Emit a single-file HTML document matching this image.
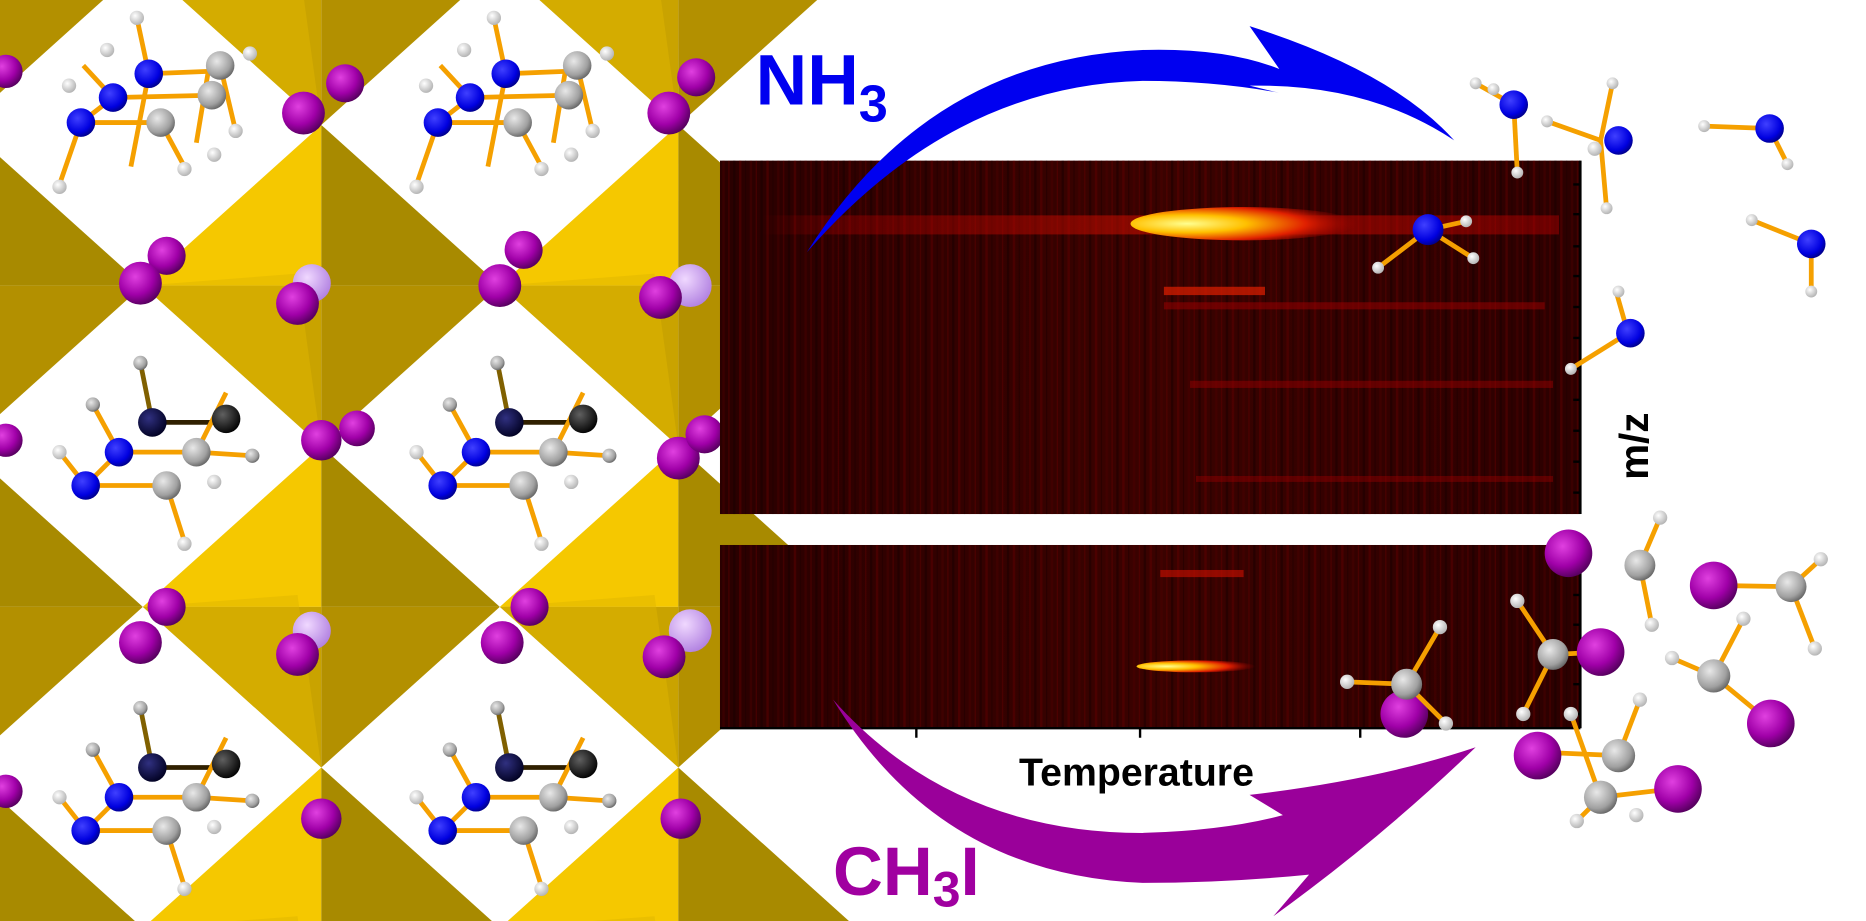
<!DOCTYPE html>
<html><head><meta charset="utf-8"><style>
html,body{margin:0;padding:0;background:#fff;overflow:hidden;width:1866px;height:921px}
svg{display:block}
</style></head><body>
<svg width="1866" height="921" viewBox="0 0 1568 774" preserveAspectRatio="none" xmlns="http://www.w3.org/2000/svg">
<defs>
<radialGradient id="gP" cx="0.38" cy="0.35" r="0.7"><stop offset="0" stop-color="#e040e0"/><stop offset="0.6" stop-color="#a000a8"/><stop offset="1" stop-color="#500058"/></radialGradient>
<radialGradient id="gL" cx="0.38" cy="0.35" r="0.7"><stop offset="0" stop-color="#f0d8ff"/><stop offset="1" stop-color="#b080e0"/></radialGradient>
<radialGradient id="gB" cx="0.38" cy="0.35" r="0.7"><stop offset="0" stop-color="#4040ff"/><stop offset="0.7" stop-color="#0000e0"/><stop offset="1" stop-color="#000080"/></radialGradient>
<radialGradient id="gD" cx="0.38" cy="0.35" r="0.7"><stop offset="0" stop-color="#303080"/><stop offset="1" stop-color="#000020"/></radialGradient>
<radialGradient id="gG" cx="0.38" cy="0.35" r="0.7"><stop offset="0" stop-color="#e8e8e8"/><stop offset="0.7" stop-color="#a0a0a0"/><stop offset="1" stop-color="#606060"/></radialGradient>
<radialGradient id="gK" cx="0.38" cy="0.35" r="0.7"><stop offset="0" stop-color="#606060"/><stop offset="1" stop-color="#000"/></radialGradient>
<radialGradient id="gW" cx="0.38" cy="0.35" r="0.7"><stop offset="0" stop-color="#fff"/><stop offset="1" stop-color="#b0b0b0"/></radialGradient>
<linearGradient id="hm" x1="0" x2="1"><stop offset="0" stop-color="#2a0000"/><stop offset="0.5" stop-color="#3a0200"/><stop offset="1" stop-color="#2c0000"/></linearGradient>
<pattern id="noise" width="23" height="10" patternUnits="userSpaceOnUse">
 <rect x="0" width="2" height="10" fill="#600000" opacity="0.5"/><rect x="5" width="1" height="10" fill="#200000" opacity="0.6"/>
 <rect x="9" width="2" height="10" fill="#500000" opacity="0.4"/><rect x="14" width="1" height="10" fill="#700000" opacity="0.4"/>
 <rect x="18" width="2" height="10" fill="#180000" opacity="0.5"/>
</pattern>
<linearGradient id="s1" x1="0" x2="1"><stop offset="0" stop-color="#c00000" stop-opacity="0"/><stop offset="0.1" stop-color="#b00000" stop-opacity="0.5"/><stop offset="0.5" stop-color="#d01000" stop-opacity="0.8"/><stop offset="1" stop-color="#c00000" stop-opacity="0.6"/></linearGradient>
<radialGradient id="hot" cx="0.25" cy="0.5" r="0.75"><stop offset="0" stop-color="#ffff90"/><stop offset="0.35" stop-color="#ffc000"/><stop offset="0.7" stop-color="#e02000"/><stop offset="1" stop-color="#a00000" stop-opacity="0"/></radialGradient>
<g id="oct">
 <polygon points="-150,0 0,-135 0,0" fill="#f5c800"/>
 <polygon points="0,-135 150,0 0,0" fill="#a88a00"/>
 <polygon points="-150,0 0,0 0,135" fill="#c9a300"/>
 <polygon points="0,0 150,0 0,135" fill="#b39000"/>
 <polygon points="-150,0 -20,-10 0,135" fill="#e0b500" opacity="0.5"/>
</g>
</defs>
<rect width="1568" height="774" fill="#fff"/>

<g>
<use href="#oct" x="-30" y="-30"/><use href="#oct" x="270" y="-30"/><use href="#oct" x="570" y="-30"/>
<use href="#oct" x="-30" y="240"/><use href="#oct" x="270" y="240"/><use href="#oct" x="570" y="240"/>
<use href="#oct" x="-30" y="510"/><use href="#oct" x="270" y="510"/><use href="#oct" x="570" y="510"/>
<use href="#oct" x="-30" y="780"/><use href="#oct" x="270" y="780"/><use href="#oct" x="570" y="780"/>
</g>
<g>
<circle cx="262" cy="238" r="16" fill="url(#gL)"/><circle cx="580" cy="240" r="18" fill="url(#gL)"/>
<circle cx="262" cy="530" r="16" fill="url(#gL)"/><circle cx="580" cy="530" r="18" fill="url(#gL)"/>
<circle cx="140" cy="215" r="16" fill="url(#gP)"/><circle cx="118" cy="238" r="18" fill="url(#gP)"/>
<circle cx="255" cy="95" r="18" fill="url(#gP)"/><circle cx="290" cy="70" r="16" fill="url(#gP)"/>
<circle cx="250" cy="255" r="18" fill="url(#gP)"/>
<circle cx="440" cy="210" r="16" fill="url(#gP)"/><circle cx="420" cy="240" r="18" fill="url(#gP)"/>
<circle cx="555" cy="250" r="18" fill="url(#gP)"/><circle cx="562" cy="95" r="18" fill="url(#gP)"/><circle cx="585" cy="65" r="16" fill="url(#gP)"/>
<circle cx="740" cy="212" r="18" fill="url(#gP)"/>
<circle cx="270" cy="370" r="17" fill="url(#gP)"/><circle cx="300" cy="360" r="15" fill="url(#gP)"/>
<circle cx="570" cy="385" r="18" fill="url(#gP)"/><circle cx="592" cy="365" r="16" fill="url(#gP)"/>
<circle cx="140" cy="510" r="16" fill="url(#gP)"/><circle cx="118" cy="540" r="18" fill="url(#gP)"/>
<circle cx="250" cy="550" r="18" fill="url(#gP)"/>
<circle cx="445" cy="510" r="16" fill="url(#gP)"/><circle cx="422" cy="540" r="18" fill="url(#gP)"/>
<circle cx="558" cy="552" r="18" fill="url(#gP)"/>
<circle cx="740" cy="508" r="18" fill="url(#gP)"/><circle cx="722" cy="538" r="18" fill="url(#gP)"/>
<circle cx="270" cy="688" r="17" fill="url(#gP)"/><circle cx="572" cy="688" r="17" fill="url(#gP)"/>
<circle cx="5" cy="60" r="14" fill="url(#gP)"/><circle cx="5" cy="370" r="14" fill="url(#gP)"/><circle cx="5" cy="665" r="14" fill="url(#gP)"/>
</g>
<g id="mol1" stroke="#f5a000" stroke-width="4">
 <line x1="68" y1="103" x2="95" y2="82"/><line x1="95" y1="82" x2="178" y2="80"/><line x1="68" y1="103" x2="135" y2="103"/>
 <line x1="125" y1="62" x2="175" y2="60"/><line x1="125" y1="62" x2="110" y2="140"/><line x1="175" y1="60" x2="165" y2="120"/>
 <line x1="68" y1="103" x2="50" y2="155"/><line x1="125" y1="62" x2="115" y2="15"/><line x1="185" y1="55" x2="198" y2="110"/>
 <line x1="95" y1="82" x2="70" y2="55"/><line x1="135" y1="103" x2="155" y2="140"/>
 <circle cx="50" cy="157" r="6" fill="url(#gW)" stroke="none"/><circle cx="115" cy="15" r="6" fill="url(#gW)" stroke="none"/>
 <circle cx="90" cy="42" r="6" fill="url(#gW)" stroke="none"/><circle cx="198" cy="110" r="6" fill="url(#gW)" stroke="none"/>
 <circle cx="155" cy="142" r="6" fill="url(#gW)" stroke="none"/><circle cx="180" cy="130" r="6" fill="url(#gW)" stroke="none"/>
 <circle cx="58" cy="72" r="6" fill="url(#gW)" stroke="none"/><circle cx="210" cy="45" r="6" fill="url(#gW)" stroke="none"/>
 <circle cx="125" cy="62" r="12" fill="url(#gB)" stroke="none"/><circle cx="95" cy="82" r="12" fill="url(#gB)" stroke="none"/>
 <circle cx="68" cy="103" r="12" fill="url(#gB)" stroke="none"/><circle cx="178" cy="80" r="12" fill="url(#gG)" stroke="none"/>
 <circle cx="185" cy="55" r="12" fill="url(#gG)" stroke="none"/><circle cx="135" cy="103" r="12" fill="url(#gG)" stroke="none"/>
</g>
<use href="#mol1" x="300" y="0"/>
<g id="mol2" stroke="#f5a000" stroke-width="4">
 <line x1="128" y1="355" x2="190" y2="355" stroke="#302000"/><line x1="128" y1="355" x2="118" y2="305" stroke="#806000"/>
 <line x1="100" y1="380" x2="165" y2="380"/><line x1="72" y1="408" x2="140" y2="408"/><line x1="100" y1="380" x2="72" y2="408"/>
 <line x1="165" y1="380" x2="190" y2="330"/><line x1="140" y1="408" x2="155" y2="455"/><line x1="72" y1="408" x2="50" y2="380"/>
 <line x1="100" y1="380" x2="78" y2="340"/><line x1="165" y1="380" x2="212" y2="383"/>
 <circle cx="155" cy="457" r="6" fill="url(#gW)" stroke="none"/><circle cx="50" cy="380" r="6" fill="url(#gW)" stroke="none"/>
 <circle cx="78" cy="340" r="6" fill="url(#gG)" stroke="none"/><circle cx="118" cy="305" r="6" fill="url(#gG)" stroke="none"/>
 <circle cx="212" cy="383" r="6" fill="url(#gG)" stroke="none"/><circle cx="180" cy="405" r="6" fill="url(#gW)" stroke="none"/>
 <circle cx="128" cy="355" r="12" fill="url(#gD)" stroke="none"/><circle cx="190" cy="352" r="12" fill="url(#gK)" stroke="none"/>
 <circle cx="100" cy="380" r="12" fill="url(#gB)" stroke="none"/><circle cx="72" cy="408" r="12" fill="url(#gB)" stroke="none"/>
 <circle cx="165" cy="380" r="12" fill="url(#gG)" stroke="none"/><circle cx="140" cy="408" r="12" fill="url(#gG)" stroke="none"/>
</g>
<use href="#mol2" x="300" y="0"/>
<use href="#mol2" x="0" y="290"/>
<use href="#mol2" x="300" y="290"/>

<g>
<rect x="605" y="135" width="723" height="297" fill="url(#hm)"/>
<rect x="605" y="135" width="723" height="297" fill="url(#noise)"/>
<rect x="605" y="458" width="723" height="154" fill="url(#hm)"/>
<rect x="605" y="458" width="723" height="154" fill="url(#noise)"/>
<rect x="640" y="181" width="670" height="16" fill="url(#s1)" opacity="0.7"/>
<ellipse cx="1045" cy="188" rx="95" ry="14" fill="url(#hot)"/>
<rect x="978" y="241" width="85" height="7" fill="#e02000" opacity="0.7"/>
<rect x="978" y="254" width="320" height="6" fill="#a00000" opacity="0.5"/>
<rect x="1000" y="320" width="305" height="6" fill="#a00000" opacity="0.45"/>
<rect x="1005" y="400" width="300" height="5" fill="#a00000" opacity="0.4"/>
<rect x="975" y="479" width="70" height="6" fill="#d01000" opacity="0.6"/>
<ellipse cx="1005" cy="560" rx="50" ry="5" fill="url(#hot)"/>
<g stroke="#000" stroke-width="2">
 <line x1="1328" y1="135" x2="1328" y2="432"/><line x1="1328" y1="458" x2="1328" y2="612"/>
 <line x1="1322" y1="155" x2="1328" y2="155"/><line x1="1322" y1="180" x2="1328" y2="180"/><line x1="1322" y1="207" x2="1328" y2="207"/>
 <line x1="1322" y1="232" x2="1328" y2="232"/><line x1="1322" y1="258" x2="1328" y2="258"/><line x1="1322" y1="284" x2="1328" y2="284"/>
 <line x1="1322" y1="310" x2="1328" y2="310"/><line x1="1322" y1="336" x2="1328" y2="336"/><line x1="1322" y1="362" x2="1328" y2="362"/>
 <line x1="1322" y1="388" x2="1328" y2="388"/><line x1="1322" y1="414" x2="1328" y2="414"/>
 <line x1="1322" y1="475" x2="1328" y2="475"/><line x1="1322" y1="500" x2="1328" y2="500"/><line x1="1322" y1="525" x2="1328" y2="525"/>
 <line x1="1322" y1="550" x2="1328" y2="550"/><line x1="1322" y1="575" x2="1328" y2="575"/><line x1="1322" y1="600" x2="1328" y2="600"/>
 <line x1="605" y1="612" x2="1328" y2="612"/>
 <line x1="770" y1="612" x2="770" y2="620"/><line x1="958" y1="612" x2="958" y2="620"/><line x1="1143" y1="612" x2="1143" y2="620"/>
</g>
</g>

<text x="955" y="660" text-anchor="middle" font-family="Liberation Sans, sans-serif" font-size="33" font-weight="bold" fill="#000">Temperature</text>
<text transform="translate(1385,375) rotate(-90)" text-anchor="middle" font-family="Liberation Sans, sans-serif" font-size="34" font-weight="bold" fill="#000">m/z</text>
<text x="635" y="88" font-family="Liberation Sans, sans-serif" font-size="60" font-weight="bold" fill="#0000f0">NH<tspan font-size="44" dy="14">3</tspan></text>
<text x="700" y="752" font-family="Liberation Sans, sans-serif" font-size="58" font-weight="bold" fill="#a000a0">CH<tspan font-size="42" dy="10">3</tspan><tspan dy="-10">I</tspan></text>

<path d="M678,212 Q780,50 960,42 Q1030,40 1075,58 L1050,22 Q1170,60 1222,118 Q1150,70 1050,72 L1075,78 Q1020,68 960,68 Q800,72 678,212 Z" fill="#0000f0"/>
<path d="M700,588 Q800,700 960,700 Q1030,698 1078,685 L1050,668 Q1160,655 1240,628 Q1160,705 1070,770 L1100,735 Q1030,742 960,742 Q790,735 700,588 Z" fill="#9a009a"/>

<g stroke="#f5a000" stroke-width="4">
 <line x1="1272" y1="88" x2="1240" y2="70"/><line x1="1272" y1="88" x2="1275" y2="145"/>
 <circle cx="1240" cy="70" r="5" fill="url(#gW)" stroke="none"/><circle cx="1255" cy="75" r="5" fill="url(#gW)" stroke="none"/><circle cx="1275" cy="145" r="5" fill="url(#gW)" stroke="none"/>
 <circle cx="1272" cy="88" r="12" fill="url(#gB)" stroke="none"/>
 <line x1="1345" y1="118" x2="1300" y2="102"/><line x1="1345" y1="118" x2="1355" y2="70"/><line x1="1345" y1="118" x2="1350" y2="175"/>
 <circle cx="1300" cy="102" r="5" fill="url(#gW)" stroke="none"/><circle cx="1355" cy="70" r="5" fill="url(#gW)" stroke="none"/><circle cx="1350" cy="175" r="5" fill="url(#gW)" stroke="none"/><circle cx="1340" cy="125" r="6" fill="url(#gW)" stroke="none"/>
 <circle cx="1360" cy="118" r="12" fill="url(#gB)" stroke="none"/>
 <line x1="1487" y1="108" x2="1432" y2="106"/><line x1="1487" y1="108" x2="1502" y2="138"/>
 <circle cx="1432" cy="106" r="5" fill="url(#gW)" stroke="none"/><circle cx="1502" cy="138" r="5" fill="url(#gW)" stroke="none"/><circle cx="1487" cy="108" r="12" fill="url(#gB)" stroke="none"/>
 <line x1="1522" y1="205" x2="1472" y2="185"/><line x1="1522" y1="205" x2="1522" y2="245"/>
 <circle cx="1472" cy="185" r="5" fill="url(#gW)" stroke="none"/><circle cx="1522" cy="245" r="5" fill="url(#gW)" stroke="none"/><circle cx="1522" cy="205" r="12" fill="url(#gB)" stroke="none"/>
 <line x1="1368" y1="280" x2="1320" y2="310"/><line x1="1368" y1="280" x2="1358" y2="245"/>
 <circle cx="1320" cy="310" r="5" fill="url(#gW)" stroke="none"/><circle cx="1360" cy="245" r="5" fill="url(#gW)" stroke="none"/><circle cx="1370" cy="280" r="12" fill="url(#gB)" stroke="none"/>
 <line x1="1200" y1="193" x2="1158" y2="225"/><line x1="1200" y1="193" x2="1238" y2="217"/><line x1="1200" y1="193" x2="1232" y2="186"/>
 <circle cx="1158" cy="225" r="5" fill="url(#gW)" stroke="none"/><circle cx="1238" cy="217" r="5" fill="url(#gW)" stroke="none"/><circle cx="1232" cy="186" r="5" fill="url(#gW)" stroke="none"/><circle cx="1200" cy="193" r="13" fill="url(#gB)" stroke="none"/>
</g>
<g stroke="#f5a000" stroke-width="4">
 <circle cx="1180" cy="600" r="20" fill="url(#gP)" stroke="none"/>
 <line x1="1182" y1="575" x2="1132" y2="573"/><line x1="1182" y1="575" x2="1210" y2="527"/><line x1="1182" y1="575" x2="1215" y2="608"/>
 <circle cx="1132" cy="573" r="6" fill="url(#gW)" stroke="none"/><circle cx="1210" cy="527" r="6" fill="url(#gW)" stroke="none"/><circle cx="1215" cy="608" r="6" fill="url(#gW)" stroke="none"/>
 <circle cx="1182" cy="575" r="13" fill="url(#gG)" stroke="none"/>
 <circle cx="1318" cy="465" r="20" fill="url(#gP)" stroke="none"/>
 <line x1="1305" y1="550" x2="1275" y2="505"/><line x1="1305" y1="550" x2="1280" y2="600"/><line x1="1305" y1="550" x2="1345" y2="548"/>
 <circle cx="1275" cy="505" r="6" fill="url(#gW)" stroke="none"/><circle cx="1280" cy="600" r="6" fill="url(#gW)" stroke="none"/>
 <circle cx="1305" cy="550" r="13" fill="url(#gG)" stroke="none"/><circle cx="1345" cy="548" r="20" fill="url(#gP)" stroke="none"/>
 <line x1="1378" y1="475" x2="1395" y2="435"/><line x1="1378" y1="475" x2="1388" y2="525"/>
 <circle cx="1395" cy="435" r="6" fill="url(#gW)" stroke="none"/><circle cx="1388" cy="525" r="6" fill="url(#gW)" stroke="none"/><circle cx="1378" cy="475" r="13" fill="url(#gG)" stroke="none"/>
 <line x1="1440" y1="492" x2="1505" y2="493"/><line x1="1505" y1="493" x2="1525" y2="545"/><line x1="1505" y1="493" x2="1530" y2="470"/>
 <circle cx="1525" cy="545" r="6" fill="url(#gW)" stroke="none"/><circle cx="1530" cy="470" r="6" fill="url(#gW)" stroke="none"/>
 <circle cx="1440" cy="492" r="20" fill="url(#gP)" stroke="none"/><circle cx="1505" cy="493" r="13" fill="url(#gG)" stroke="none"/>
 <line x1="1440" y1="568" x2="1465" y2="520"/><line x1="1440" y1="568" x2="1405" y2="553"/><line x1="1440" y1="568" x2="1485" y2="605"/>
 <circle cx="1465" cy="520" r="6" fill="url(#gW)" stroke="none"/><circle cx="1405" cy="553" r="6" fill="url(#gW)" stroke="none"/>
 <circle cx="1440" cy="568" r="14" fill="url(#gG)" stroke="none"/><circle cx="1488" cy="608" r="20" fill="url(#gP)" stroke="none"/>
 <line x1="1290" y1="632" x2="1360" y2="635"/><line x1="1360" y1="635" x2="1378" y2="588"/><line x1="1345" y1="670" x2="1405" y2="663"/>
 <line x1="1345" y1="670" x2="1325" y2="690"/><line x1="1320" y1="600" x2="1345" y2="670"/>
 <circle cx="1378" cy="588" r="6" fill="url(#gW)" stroke="none"/><circle cx="1325" cy="690" r="6" fill="url(#gW)" stroke="none"/><circle cx="1320" cy="600" r="6" fill="url(#gW)" stroke="none"/><circle cx="1375" cy="685" r="6" fill="url(#gW)" stroke="none"/>
 <circle cx="1292" cy="635" r="20" fill="url(#gP)" stroke="none"/><circle cx="1360" cy="635" r="14" fill="url(#gG)" stroke="none"/>
 <circle cx="1345" cy="670" r="14" fill="url(#gG)" stroke="none"/><circle cx="1410" cy="663" r="20" fill="url(#gP)" stroke="none"/>
</g>
</svg>
</body></html>
